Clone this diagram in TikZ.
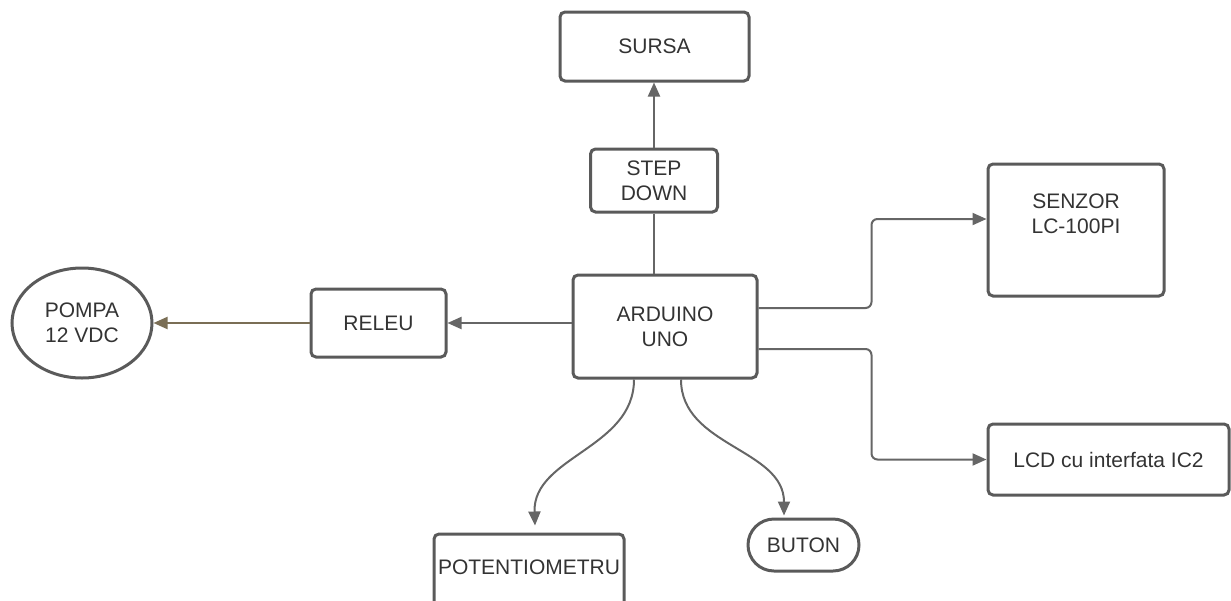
\documentclass[tikz,border=0pt]{standalone}
\usepackage{fontspec}
\setmainfont{Liberation Sans}
\usepackage{tikz}
\usetikzlibrary{arrows.meta,shapes.geometric}

\definecolor{boxgray}{HTML}{5A5A5A}
\definecolor{linegray}{HTML}{666666}
\definecolor{txtgray}{HTML}{333333}
\definecolor{pumpbrown}{HTML}{7A6E55}

\begin{document}
\begin{tikzpicture}[x=0.5pt,y=-0.5pt,
    font=\fontsize{10.5}{12.5}\selectfont,
    block/.style={draw=boxgray,line width=1.5pt,rounded corners=2.5pt,align=center,text=txtgray,inner sep=0pt},
    conn/.style={draw=linegray,line width=1pt},
    arr/.style={conn,-{Triangle[length=7pt,width=6pt]}}]
    \useasboundingbox (0,0) rectangle (1231,600);
    \clip (0,0) rectangle (1231,600);

    \node[block,minimum width=94.5pt,minimum height=34.5pt] (sursa) at (654.5,46.5) {SURSA};
    \node[block,minimum width=63.5pt,minimum height=31.5pt] (stepdown) at (654,180.5) {STEP\\DOWN};
    \node[block,minimum width=92pt,minimum height=51.5pt] (arduino) at (665,326.5) {ARDUINO\\UNO};
    \node[block,minimum width=67.5pt,minimum height=34pt] (releu) at (378.5,323) {RELEU};
    \node[block,ellipse,minimum width=70pt,minimum height=55pt] (pompa) at (82,323) {POMPA\\12 VDC};
    \node[block,minimum width=88pt,minimum height=66pt] (senzor) at (1076,230) {};
    \node[align=center,text=txtgray] (senzortxt) at (1076,214) {SENZOR\\LC-100PI};
    \node[block,minimum width=120.5pt,minimum height=35.5pt] (lcd) at (1108.5,459.5) {LCD cu interfata IC2};
    \node[block,minimum width=95pt,minimum height=53pt] (potentiometru) at (529,587) {};
    \node[text=txtgray] (pottxt) at (529,567) {POTENTIOMETRU};
    \node[block,rounded corners=13pt,minimum width=55.5pt,minimum height=26pt] (buton) at (803.5,545) {BUTON};

    % power
    \draw[conn] (stepdown.south) -- (stepdown.south |- arduino.north);
    \draw[arr] (stepdown.north) -- (stepdown.north |- sursa.south);

    % outputs
    \draw[arr] (arduino.west |- releu.east) -- (releu.east);
    \draw[arr,draw=pumpbrown] (releu.west) -- (pompa.east);

    \draw[arr,rounded corners=3pt] ([yshift=9.25pt]arduino.east) -- ++(56.5pt,0) |- ([yshift=5.5pt]senzor.west);
    \draw[arr,rounded corners=3pt] ([yshift=-11.25pt]arduino.east) -- ++(56.5pt,0) |- (lcd.west);

    % inputs
    \draw[arr] ([xshift=-15.5pt]arduino.south) to[out=-90,in=92] ([xshift=3pt,yshift=3.5pt]potentiometru.north);
    \draw[arr] ([xshift=8pt]arduino.south) to[out=-90,in=90] ([xshift=-9.75pt,yshift=1pt]buton.north);
\end{tikzpicture}
\end{document}
